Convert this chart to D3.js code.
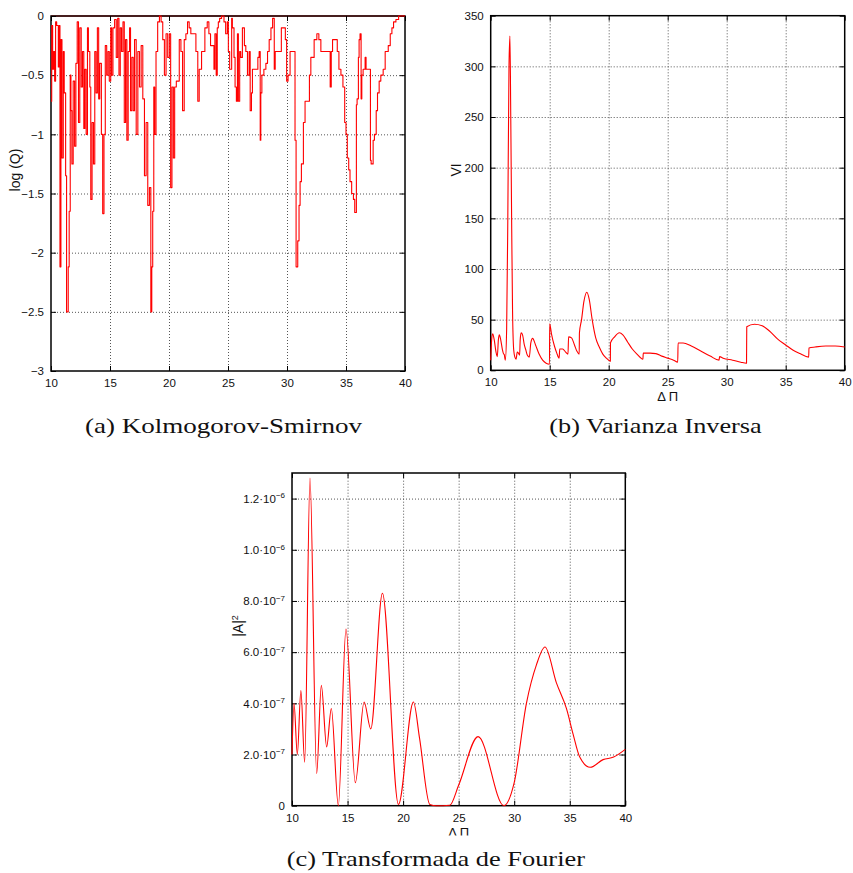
<!DOCTYPE html>
<html><head><meta charset="utf-8">
<script src="https://cdn.jsdelivr.net/npm/d3@7"></script>
<style>body{margin:0;background:#fff} svg{display:block}</style>
</head><body><svg id="chart" width="853" height="873"></svg>
<script>
// ---------- DATA ----------
const xTicks = [10, 15, 20, 25, 30, 35, 40];

// (a) Kolmogorov-Smirnov : log(Q) vs ΔΠ (step trace)
const ksX = [10.0,10.06,10.14,10.22,10.31,10.39,10.48,10.62,10.70,10.76,10.84,10.93,11.04,11.12,11.24,11.32,11.46,11.54,11.63,11.69,11.77,11.88,12.0,12.11,12.22,12.33,12.44,12.56,12.67,12.78,12.87,12.98,13.09,13.17,13.29,13.37,13.48,13.6,13.71,13.82,13.93,14.04,14.13,14.27,14.38,14.49,14.6,14.72,14.83,14.94,15.06,15.14,15.25,15.39,15.53,15.65,15.76,15.87,15.98,16.1,16.21,16.32,16.43,16.54,16.66,16.74,16.85,16.97,17.08,17.22,17.36,17.5,17.64,17.78,17.92,18.06,18.2,18.34,18.46,18.54,18.62,18.71,18.79,18.9,19.04,19.19,19.33,19.47,19.61,19.75,19.89,20.03,20.14,20.25,20.37,20.48,20.62,20.87,21.01,21.15,21.29,21.43,21.57,21.71,21.85,22.05,22.28,22.44,22.56,22.76,23.04,23.24,23.38,23.52,23.81,23.89,24.0,24.09,24.18,24.29,24.46,24.66,24.8,24.94,25.03,25.14,25.31,25.37,25.51,25.6,25.71,25.8,25.88,25.99,26.08,26.22,26.39,26.51,26.65,26.79,26.88,26.99,27.07,27.3,27.53,27.64,27.73,27.78,27.87,28.04,28.21,28.35,28.49,28.64,28.78,28.92,29.0,29.52,29.86,29.97,30.09,30.26,30.68,30.77,30.91,31.02,31.11,31.22,31.39,31.53,31.65,31.9,32.02,32.3,32.53,32.7,32.87,33.04,33.66,33.75,33.86,34.0,34.26,34.4,34.57,34.74,34.89,35.0,35.11,35.23,35.34,35.48,35.63,35.74,35.88,35.94,36.05,36.11,36.19,36.28,36.34,36.45,36.62,36.7,36.79,37.07,37.13,37.3,37.41,37.56,37.67,37.81,37.95,38.15,38.32,38.58,38.75,38.89,39.03,39.23,39.46,39.63,40.0];
const ksY = [-0.72,-0.08,-0.45,-0.3,-0.55,-0.05,-0.08,-0.43,-0.08,-2.12,-0.2,-1.2,-0.3,-0.65,-1.35,-2.5,-2.12,-1.65,-0.5,-0.8,-1.25,-0.55,-1.1,-0.4,-0.05,-0.9,-0.1,-0.6,-0.3,-0.95,-0.45,-1.0,-0.1,-0.3,-0.6,-1.55,-0.9,-1.25,-0.3,-0.65,-0.1,-0.7,-0.4,-1.0,-1.67,-1.0,-0.25,-0.5,-0.3,-0.55,-0.1,-0.5,-0.1,-0.03,-0.35,-0.02,-0.5,-0.1,-0.3,-0.05,-0.9,-0.2,-1.05,-0.3,-0.1,-0.8,-0.35,-0.8,-0.2,-1.0,-0.3,-0.6,-0.25,-0.7,-1.35,-0.9,-1.6,-1.45,-2.5,-2.12,-1.65,-0.6,-1.0,-0.3,-0.05,0,-0.05,-0.2,-0.5,-0.15,-0.35,-0.15,-1.45,-0.6,-1.2,-0.6,-0.55,-0.2,-0.3,-0.8,-0.2,-0.15,-0.05,-0.1,-0.15,-0.15,-0.3,-0.72,-0.45,-0.3,-0.1,-0.05,-0.15,-0.25,-0.45,-0.15,-0.5,-0.1,-0.05,-0.02,0,-0.05,-0.15,-0.05,-0.3,-0.45,-0.02,-0.1,-0.35,-0.6,-0.72,-0.15,-0.72,-0.3,-0.35,-0.1,-0.25,-0.3,-0.5,-0.3,-0.8,-0.65,-0.45,-0.45,-0.35,-0.3,-1.05,-0.65,-0.5,-0.45,-0.4,-0.3,-0.2,-0.1,-0.02,-0.45,-0.3,-0.1,-0.2,-0.55,-0.5,-0.3,-1.05,-2.12,-1.9,-1.6,-1.4,-1.25,-0.9,-0.72,-0.72,-0.5,-0.35,-0.2,-0.15,-0.2,-0.3,-0.3,-0.6,-0.3,-0.2,-0.2,-0.3,-0.45,-0.5,-0.6,-0.9,-1.0,-1.2,-1.3,-1.4,-1.5,-1.55,-1.66,-0.75,-0.7,-0.35,-0.2,-0.15,-0.7,-0.5,-0.45,-0.35,-0.45,-0.45,-1.22,-1.25,-1.05,-1.0,-0.8,-0.65,-0.55,-0.5,-0.45,-0.3,-0.25,-0.15,-0.1,-0.05,-0.03,0,0];
const ksYTicks = [0, -0.5, -1, -1.5, -2, -2.5, -3];

// (b) Varianza Inversa : VI vs ΔΠ
const viX = [10.0,10.08,10.17,10.3,10.45,10.56,10.65,10.73,10.85,11.0,11.1,11.15,11.2,11.24,11.35,11.45,11.55,11.63,11.7,11.78,11.85,11.95,12.05,12.15,12.25,12.35,12.45,12.5,12.58,12.7,12.85,12.98,13.1,13.27,13.4,13.55,13.8,14.1,14.4,14.7,14.98,15.0,15.15,15.4,15.6,15.8,15.85,16.1,16.35,16.55,16.6,16.85,17.1,17.3,17.5,17.52,17.7,17.9,18.15,18.35,18.6,18.9,19.2,19.5,19.8,20.14,20.15,20.5,20.9,21.2,21.6,22.0,22.4,22.9,22.93,23.5,24.0,24.5,25.0,25.5,25.85,25.88,26.3,27.0,27.8,28.6,29.35,29.4,29.7,30.5,31.2,31.68,31.7,32.35,33.0,33.6,34.3,35.0,35.6,36.2,36.95,36.97,37.5,38.4,39.2,40.0];
const viY = [10,30,36,30,18,13.5,30,35,30,20,16,15.5,12,10,40,150,300,330,250,140,60,20,13,11,18,17,15,30,37,35,25,20,15,13,27,31.5,25,16,10,7,6,46,36,24,17,12,21,21,18,16,33,32,25,19,16,37,50,68,77,70,50,32,23,16,12,9,27,33,37,35,28,21,16,11,17,17,16.5,14,12,10,8,27,27,24,19,14,10,13.5,12,10,8,7,43,45.5,44,39,31,25,20,16.5,13,22,23,24,24,23];
const viYTicks = [0, 50, 100, 150, 200, 250, 300, 350];

// (c) Transformada de Fourier : |A|^2 vs ΔΠ
const ftX = [10.0,10.18,10.48,10.8,11.14,11.62,12.22,12.64,13.12,13.54,14.17,14.86,15.7,16.49,17.09,18.14,19.58,20.93,21.48,22.4,23.0,24.2,25.0,26.75,29.07,30.0,31.1,32.0,32.77,33.8,34.7,35.3,35.9,36.84,38.0,38.95,40.0];
const ftY = [2.0e-7,4.0e-7,2.0e-7,4.5e-7,1.7e-7,12.8e-7,1.25e-7,4.7e-7,2.3e-7,3.8e-7,0,6.9e-7,0.9e-7,4.05e-7,3.0e-7,8.3e-7,0.05e-7,4.05e-7,2.64e-7,0.05e-7,0,0.02e-7,0.8e-7,2.7e-7,0,0.9e-7,4.0e-7,5.5e-7,6.2e-7,4.8e-7,3.8e-7,2.8e-7,1.9e-7,1.5e-7,1.8e-7,1.9e-7,2.2e-7];
const ftYTicks = [0, 2e-7, 4e-7, 6e-7, 8e-7, 1.0e-6, 1.2e-6];
const ftYTickMant = ["0", "2.0·10", "4.0·10", "6.0·10", "8.0·10", "1.0·10", "1.2·10"];
const ftYTickExp = ["", "−7", "−7", "−7", "−7", "−6", "−6"];

const captions = ["(a) Kolmogorov-Smirnov", "(b) Varianza Inversa", "(c) Transformada de Fourier"];
const yLabels = ["log (Q)", "VI", "|A|"];
const xLabel = "Δ Π";

// ---------- DRAW ----------
const svg = d3.select("#chart");
svg.append("rect").attr("width", 853).attr("height", 873).attr("fill", "#fff");
const defs = svg.append("defs");
const tickFont = "'Liberation Sans', Arial, sans-serif";

function drawPanel(o) {
  defs.append("clipPath").attr("id", o.id + "clip").append("rect")
    .attr("x", 0).attr("y", 0).attr("width", 853).attr("height", o.clipB);
  const g = svg.append("g").attr("clip-path", `url(#${o.id}clip)`);
  const x = d3.scaleLinear().domain([10, 40]).range([o.l, o.r]);
  const y = d3.scaleLinear().domain(o.yDom).range([o.b, o.t]);
  const w = o.r - o.l, h = o.b - o.t;

  // grid
  const gx = g.append("g").attr("transform", `translate(0,${o.b})`)
    .call(d3.axisBottom(x).tickValues(xTicks.slice(1, -1)).tickSize(-h).tickFormat(""));
  const gy = g.append("g").attr("transform", `translate(${o.l},0)`)
    .call(d3.axisLeft(y).tickValues(o.yTicks.filter(t => t !== o.yDom[0] && t !== o.yDom[1])).tickSize(-w).tickFormat(""));
  [gx, gy].forEach(s => {
    s.select(".domain").remove();
    s.selectAll("line").attr("stroke", "#555").attr("stroke-width", 1).attr("stroke-dasharray", "1,2");
  });

  // frame
  g.append("rect").attr("x", o.l).attr("y", o.t).attr("width", w).attr("height", h)
    .attr("fill", "none").attr("stroke", "#000").attr("stroke-width", 1.5);
  if (o.topColor) {
    g.append("line").attr("x1", o.l).attr("x2", o.r).attr("y1", o.t).attr("y2", o.t)
      .attr("stroke", o.topColor).attr("stroke-width", 1.6);
  }

  // axes with inward ticks
  const ax = g.append("g").attr("transform", `translate(0,${o.b})`)
    .call(d3.axisBottom(x).tickValues(xTicks).tickSizeInner(-5).tickSizeOuter(0).tickPadding(8));
  const axT = g.append("g").attr("transform", `translate(0,${o.t})`)
    .call(d3.axisTop(x).tickValues(xTicks).tickSizeInner(-5).tickSizeOuter(0).tickFormat(""));
  const ay = g.append("g").attr("transform", `translate(${o.l},0)`)
    .call(d3.axisLeft(y).tickValues(o.yTicks).tickSizeInner(-5).tickSizeOuter(0).tickPadding(7)
      .tickFormat(o.fmt));
  const ayR = g.append("g").attr("transform", `translate(${o.r},0)`)
    .call(d3.axisRight(y).tickValues(o.yTicks).tickSizeInner(-5).tickSizeOuter(0).tickFormat(""));
  [ax, axT, ay, ayR].forEach(s => {
    s.select(".domain").remove();
    s.selectAll("line").attr("stroke", "#000").attr("stroke-width", 1);
    s.selectAll("text").attr("font-family", tickFont).attr("font-size", o.fs).attr("fill", "#111");
  });
  if (o.sup) {
    ay.selectAll(".tick text").each(function (d, i) {
      const t = d3.select(this);
      t.text(null);
      t.append("tspan").text(ftYTickMant[i]);
      if (ftYTickExp[i]) t.append("tspan").attr("font-size", 8).attr("dy", "-0.55em").text(ftYTickExp[i]);
    });
  }

  // y label
  const yl = g.append("text").attr("transform", `translate(${o.ylx},${o.yly}) rotate(-90)`)
    .attr("text-anchor", "middle").attr("font-family", tickFont).attr("font-size", 14).attr("fill", "#111")
    .attr("dy", "0.35em").text(o.ylab);
  if (o.ylabSup) yl.append("tspan").attr("font-size", 9).attr("dy", "-0.6em").text(o.ylabSup);

  // x label
  g.append("text").attr("x", (o.l + o.r) / 2).attr("y", o.b + 31).attr("text-anchor", "middle")
    .attr("font-family", tickFont).attr("font-size", 13).attr("fill", "#111").text(xLabel);

  // data line
  const line = d3.line().x(d => x(d[0])).y(d => y(d[1])).curve(o.curve);
  g.append("path").datum(o.xs.map((v, i) => [v, o.ys[i]])).attr("d", line)
    .attr("fill", "none").attr("stroke", "#ff0000").attr("stroke-width", 1.1).attr("stroke-linejoin", "round");

  // caption
  svg.append("text").attr("x", o.capX).attr("y", o.capY)
    .attr("font-family", "'Liberation Serif', 'DejaVu Serif', serif").attr("font-size", 22).attr("fill", "#111")
    .attr("textLength", o.capW).attr("lengthAdjust", "spacingAndGlyphs").text(o.cap);
}

drawPanel({ id: "a", l: 51, r: 405, t: 16, b: 371, yDom: [-3, 0], yTicks: ksYTicks, fmt: d => d === 0 ? "0" : d3.format("")(d),
  fs: 11.5, clipB: 390, ylab: yLabels[0], ylx: 15, yly: 170, xs: ksX, ys: ksY, curve: d3.curveStepAfter, topColor: "#4a1414",
  cap: captions[0], capX: 85, capY: 433, capW: 277 });
drawPanel({ id: "b", l: 490.7, r: 844.7, t: 15.7, b: 370.3, yDom: [0, 350], yTicks: viYTicks, fmt: d3.format("d"),
  fs: 11.5, clipB: 401, ylab: yLabels[1], ylx: 456, yly: 170, xs: viX, ys: viY, curve: d3.curveMonotoneX,
  cap: captions[1], capX: 549.3, capY: 433, capW: 212.4 });
drawPanel({ id: "c", l: 292, r: 625.3, t: 473, b: 805.7, yDom: [0, 1.3e-6], yTicks: ftYTicks, fmt: d => d, sup: true,
  fs: 11.5, clipB: 835.5, ylab: yLabels[2], ylabSup: "2", ylx: 238, yly: 626, xs: ftX, ys: ftY, curve: d3.curveMonotoneX,
  cap: captions[2], capX: 286.7, capY: 866, capW: 298.3 });
</script></body></html>
